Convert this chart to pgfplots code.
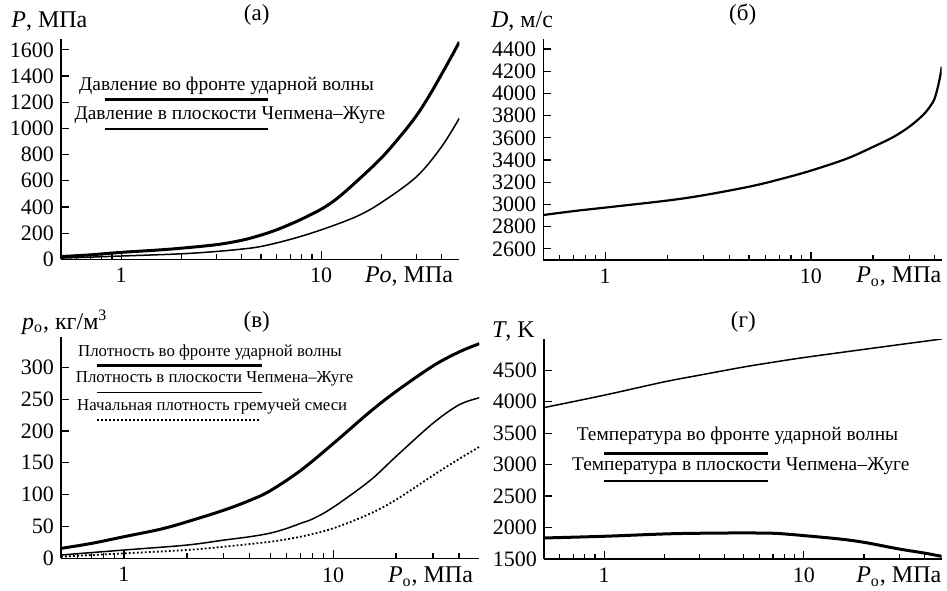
\documentclass[border=0pt]{standalone}
\usepackage{fontspec}
\setmainfont{Liberation Serif}
\usepackage{pgfplots}
\pgfplotsset{compat=1.18}
\pgfplotsset{
    scale only axis,
    axis x line*=bottom, axis y line*=left,
    axis line style={-, line width=0.75pt},
    tick align=inside, major tick length=4pt, minor tick length=2.5pt,
    every tick/.style={black, line width=0.6pt},
    xtick={1,10}, xticklabels={1,10},
    minor xtick={0.6,0.7,0.8,0.9,2,3,4,5,6,7,8,9,20,30,40},
    ticklabel style={font=\fontsize{11}{11}\selectfont},
    xticklabel style={yshift=-1pt},
    /pgf/number format/assume math mode=true,
    /pgf/number format/1000 sep={},
    scaled y ticks=false,
}
\tikzset{
  thk/.style={black, line width=1.5pt, smooth, tension=0.55},
  thn/.style={black, line width=0.75pt, smooth, tension=0.55},
  dtt/.style={black, line width=0.9pt, dash pattern=on 0.9pt off 1.1pt, smooth, tension=0.55},
}
\begin{document}
\begin{tikzpicture}
\path (0,0) rectangle (473.5pt,295pt);
% (a)
\begin{axis}[xmode=log, anchor=south west, at={(30.5pt,165.35pt)}, width=199.15pt, height=110.15pt,
  xmin=0.5, xmax=49, ymin=0, ymax=1683, ytick={0,200,...,1600}]
\addplot[thk] coordinates {(0.5,21) (0.7,34) (1,53) (1.5,70) (2,85) (3,112) (4,145) (5,185) (6,226) (7,268) (8,308) (10,383) (12,465) (15,594) (20,775) (25,945) (30,1100) (35,1260) (40,1415) (45,1555) (49,1660)};
\addplot[thn] coordinates {(0.5,9) (1,25) (2,42) (3,60) (4,78) (5,98) (7,152) (10,225) (15,327) (20,434) (30,632) (40,861) (49,1078)};
\end{axis}
% (b)
\begin{axis}[xmode=log, anchor=south west, at={(271.65pt,165pt)}, width=199.2pt, height=110.5pt,
  xmin=0.5, xmax=43.2, ymin=2500, ymax=4490, ytick={2600,2800,...,4400}]
\addplot[thn, line width=1.1pt] coordinates {(0.5,2905) (0.7,2940) (1,2972) (2,3035) (3,3083) (5,3160) (7,3225) (10,3305) (15,3414) (20,3518) (25,3605) (30,3699) (35,3804) (38,3885) (40,3960) (42,4110) (43.2,4240)};
\end{axis}
% (v)
\begin{axis}[xmode=log, anchor=south west, at={(30.5pt,15.85pt)}, width=209.15pt, height=110.8pt,
  xmin=0.5, xmax=50, ymin=0, ymax=348, ytick={0,50,...,300}]
\addplot[thk] coordinates {(0.5,15.6) (0.7,23.4) (1,33.9) (1.5,45.8) (2,57.3) (3,75.5) (4,91) (5,106) (7,138) (10,180) (15,230) (20,262) (30,302) (40,324) (50,337)};
\addplot[thn] coordinates {(0.5,5.2) (1,13) (2,20.8) (3,28.6) (4,33.9) (5,39.5) (6,46.9) (7,55) (8,62) (10,80) (15,122) (20,160) (30,212) (40,241) (50,252)};
\addplot[dtt] coordinates {(0.5,2.6) (1,7.8) (2,13) (3,18.2) (5,26) (7,34) (10,47) (15,70) (20,92) (30,130) (40,156) (50,175)};
\end{axis}
% (g)
\begin{axis}[xmode=log, anchor=south west, at={(272pt,15.5pt)}, width=198.85pt, height=109.85pt,
  xmin=0.5, xmax=49, ymin=1500, ymax=4990, ytick={1500,2000,...,4500}]
\addplot[thn] coordinates {(0.5,3905) (1,4102) (2,4314) (3,4420) (5,4550) (7,4625) (10,4700) (20,4830) (30,4905) (49,4995)};
\addplot[thk] coordinates {(0.5,1834) (1,1861) (2,1898) (3,1909) (5,1914) (7,1909) (8,1898) (10,1872) (15,1819) (20,1765) (30,1659) (40,1595) (49,1542)};
\end{axis}
% titles
\begin{scope}[every node/.style={font=\fontsize{11.5}{11.5}\selectfont, inner sep=0pt}]
\node at (128.35pt,287.5pt) {(а)};
\node at (371.35pt,287.5pt) {(б)};
\node at (128.35pt,134.15pt) {(в)};
\node at (371.65pt,134.15pt) {(г)};
\end{scope}
\begin{scope}[every node/.style={font=\fontsize{12}{12}\selectfont, inner sep=0pt}]
% y labels
\node[anchor=west] at (5.5pt,284.2pt) {\textit{P}, МПа};
\node[anchor=west] at (245.35pt,284.2pt) {\textit{D}, м/с};
\node[anchor=west] at (10.85pt,134pt) {\textit{p}\textsubscript{о}, кг/м\textsuperscript{3}};
\node[anchor=west] at (245.85pt,129.15pt) {\textit{T}, K};
% x labels
\node[anchor=east] at (226.7pt,156.65pt) {\textit{Po}, МПа};
\node[anchor=east] at (470.85pt,156.65pt) {\textit{P}\textsubscript{о}, МПа};
\node[anchor=east] at (236.7pt,6.65pt) {\textit{P}\textsubscript{о}, МПа};
\node[anchor=east] at (470.85pt,6.65pt) {\textit{P}\textsubscript{о}, МПа};
\end{scope}
% legends
\begin{scope}[every node/.style={font=\fontsize{9.7}{9.7}\selectfont, inner sep=0pt}]
\node at (113.25pt,252pt) {Давление во фронте ударной волны};
\draw[line width=1.5pt] (52.5pt,245pt) -- (134.2pt,245pt);
\node at (115pt,237.5pt) {Давление в плоскости Чепмена--Жуге};
\draw[line width=0.75pt] (52.5pt,230.5pt) -- (134.2pt,230.5pt);
\node at (368.75pt,77.15pt) {Температура во фронте ударной волны};
\draw[line width=1.5pt] (302.15pt,68.35pt) -- (383.85pt,68.35pt);
\node at (370.4pt,61.65pt) {Температура в плоскости Чепмена--Жуге};
\draw[line width=0.75pt] (302.15pt,54.5pt) -- (383.85pt,54.5pt);
\end{scope}
\begin{scope}[every node/.style={font=\fontsize{8.4}{8.4}\selectfont, inner sep=0pt}]
\node at (105pt,118.65pt) {Плотность во фронте ударной волны};
\draw[line width=1.5pt] (48.5pt,112.15pt) -- (131pt,112.15pt);
\node at (107.35pt,105.35pt) {Плотность в плоскости Чепмена--Жуге};
\draw[line width=0.75pt] (48.5pt,98.65pt) -- (131pt,98.65pt);
\node at (106.1pt,91.65pt) {Начальная плотность гремучей смеси};
\draw[line width=0.9pt, dash pattern=on 0.9pt off 1.1pt] (48.67pt,85pt) -- (130pt,85pt);
\end{scope}
\end{tikzpicture}
\end{document}
